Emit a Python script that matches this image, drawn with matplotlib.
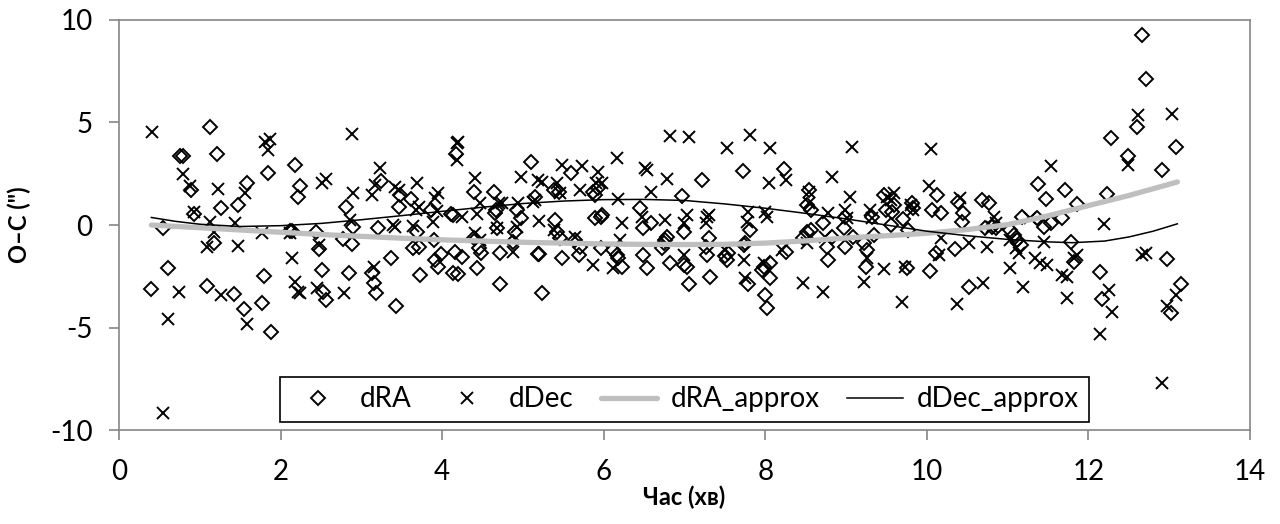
import matplotlib
matplotlib.use("Agg")
import matplotlib.pyplot as plt

plt.rcParams['font.family'] = ['Lato', 'DejaVu Sans']
plt.rcParams['axes.unicode_minus'] = False

# dRA points (time in min, O-C in arcsec)
dra_x = [0.40, 0.55, 0.60, 0.75, 0.79, 0.89, 0.93, 1.09, 1.13, 1.18, 1.21, 1.26, 1.42, 1.47, 1.55,
         1.58, 1.77, 1.80, 1.84, 1.88, 2.12, 2.14, 2.18, 2.21, 2.24, 2.44, 2.47, 2.51, 2.53, 2.56,
         2.77, 2.81, 2.85, 2.88, 2.90, 3.13, 3.15, 3.18, 3.20, 3.24, 3.37, 3.43, 3.46, 3.48, 3.62,
         3.64, 3.69, 3.71, 3.73, 3.86, 3.90, 3.91, 3.95, 3.98, 4.11, 4.13, 4.14, 4.16, 4.17, 4.19,
         4.24, 4.39, 4.39, 4.43, 4.46, 4.48, 4.64, 4.65, 4.66, 4.68, 4.71, 4.72, 4.88, 4.90, 4.92,
         4.97, 5.10, 5.15, 5.18, 5.20, 5.23, 5.38, 5.40, 5.42, 5.44, 5.46, 5.48, 5.60, 5.65, 5.69,
         5.71, 5.87, 5.89, 5.89, 5.93, 5.96, 5.96, 5.98, 6.12, 6.16, 6.18, 6.22, 6.45, 6.49, 6.49,
         6.53, 6.58, 6.72, 6.74, 6.76, 6.78, 6.82, 6.97, 6.99, 6.99, 7.03, 7.06, 7.21, 7.26, 7.28,
         7.30, 7.31, 7.50, 7.52, 7.54, 7.72, 7.73, 7.75, 7.79, 7.81, 7.96, 7.98, 8.00, 8.02, 8.06,
         8.06, 8.23, 8.25, 8.47, 8.52, 8.52, 8.54, 8.56, 8.56, 8.72, 8.76, 8.78, 8.82, 8.97, 8.99,
         8.99, 9.09, 9.22, 9.24, 9.26, 9.32, 9.34, 9.47, 9.49, 9.55, 9.57, 9.59, 9.70, 9.75, 9.77,
         9.81, 9.83, 10.06, 10.04, 10.11, 10.13, 10.17, 10.35, 10.39, 10.43, 10.45, 10.52, 10.68, 10.72, 10.77,
         10.81, 10.85, 11.03, 11.08, 11.12, 11.16, 11.18, 11.36, 11.38, 11.45, 11.47, 11.53, 11.67, 11.71, 11.78,
         11.82, 11.86, 12.14, 12.17, 12.23, 12.28, 12.49, 12.60, 12.66, 12.71, 12.91, 12.97, 13.02, 13.08, 13.14]
dra_y = [-3.13, -0.15, -2.10, 3.38, 3.38, 1.70, 0.54, -2.98, 4.80, -0.89, 3.46, 0.85, -3.37, 0.98, -4.10,
         2.05, -3.81, -2.47, 2.55, -5.20, -0.30, -0.30, 2.93, 1.37, 1.90, -0.33, -1.18, -2.20, -3.27, -3.66,
         -0.68, 0.86, -2.34, -0.93, -0.10, -2.34, -2.81, -3.32, -0.15, 2.16, -1.59, -3.95, 0.89, 1.46, 1.25,
         -1.14, -0.33, -1.06, -2.44, 0.73, -0.73, -1.71, -2.03, -1.43, 0.52, 0.47, -2.36, -1.30, 3.46, -2.39,
         -1.58, 1.63, -0.65, -2.11, -1.14, -1.38, 1.63, 0.57, 0.73, -0.16, -1.38, -2.85, -0.81, -0.33, 0.73,
         0.33, 3.09, 1.38, -1.43, -1.43, -3.33, 1.71, 0.24, -0.33, 1.63, -0.65, -1.63, 2.52, -0.73, -1.46,
         -1.06, 1.63, 1.46, 0.33, 1.79, 0.41, -1.14, 0.49, -1.22, -1.46, -1.63, -2.03, 0.81, -0.16, -1.46,
         -2.11, 0.08, -1.14, -0.89, -0.73, -0.57, -1.87, 1.41, -0.33, -1.95, -2.03, -2.85, 2.20, -1.06, -1.46,
         -0.65, -2.52, -1.50, -1.71, -1.38, 2.65, -0.98, -0.89, -2.89, -0.24, -2.20, -2.03, -3.41, -4.03, -1.87,
         -2.60, 2.72, -1.30, -0.65, 0.98, -0.33, 1.71, 0.73, -0.24, 0.08, -1.06, -1.71, -0.57, -0.16, 0.41,
         -1.06, -0.57, -0.89, -2.03, -1.22, 0.41, -0.49, 1.46, 0.73, 0.00, 0.65, 0.98, 0.28, -2.11, -0.24,
         1.06, 0.81, 0.73, -2.24, -1.38, 1.46, 0.60, -1.19, 1.14, 0.16, 0.57, -3.01, 1.22, -0.16, 1.09,
         -0.08, -0.16, -0.24, -0.49, -0.73, -0.98, 0.41, 0.33, 1.98, -0.08, 1.25, 0.08, 0.33, 1.71, -0.81,
         -1.79, 1.01, -2.28, -3.58, 1.50, 4.23, 3.35, 4.80, 9.27, 7.11, 2.68, -1.67, -4.28, 3.82, -2.85]

# dDec points
ddec_x = [0.41, 0.55, 0.60, 0.74, 0.79, 0.88, 0.93, 1.09, 1.13, 1.18, 1.22, 1.26, 1.44, 1.47, 1.56,
          1.58, 1.77, 1.81, 1.85, 1.87, 2.12, 2.14, 2.18, 2.22, 2.24, 2.45, 2.48, 2.51, 2.56, 2.78,
          2.86, 2.88, 2.90, 3.13, 3.15, 3.17, 3.23, 3.39, 3.42, 3.42, 3.46, 3.64, 3.67, 3.69, 3.71,
          3.89, 3.91, 3.93, 3.95, 4.18, 4.18, 4.20, 4.24, 4.41, 4.41, 4.43, 4.47, 4.47, 4.68, 4.70,
          4.74, 4.88, 4.92, 4.94, 4.97, 5.13, 5.15, 5.19, 5.20, 5.23, 5.38, 5.42, 5.46, 5.48, 5.65,
          5.71, 5.73, 5.87, 5.91, 5.93, 5.98, 6.12, 6.16, 6.18, 6.20, 6.22, 6.47, 6.51, 6.53, 6.58,
          6.76, 6.78, 6.82, 6.99, 6.99, 7.03, 7.06, 7.26, 7.28, 7.30, 7.50, 7.53, 7.73, 7.75, 7.77,
          7.79, 7.81, 7.98, 8.00, 8.02, 8.04, 8.06, 8.21, 8.25, 8.47, 8.51, 8.54, 8.54, 8.72, 8.74,
          8.78, 8.82, 8.99, 9.01, 9.05, 9.07, 9.22, 9.26, 9.30, 9.32, 9.47, 9.51, 9.55, 9.59, 9.69,
          9.73, 9.80, 9.83, 10.05, 10.03, 10.15, 10.17, 10.37, 10.41, 10.52, 10.70, 10.74, 10.81, 10.83, 10.85,
          11.03, 11.03, 11.10, 11.14, 11.19, 11.28, 11.34, 11.40, 11.45, 11.49, 11.53, 11.67, 11.73, 11.73, 11.82,
          11.86, 12.14, 12.19, 12.25, 12.29, 12.49, 12.61, 12.66, 12.71, 12.91, 12.97, 13.03, 13.08]
ddec_y = [4.55, -9.15, -4.59, -3.25, 2.49, 1.92, 0.65, -1.06, 0.16, -0.33, 1.76, -3.41, 0.10, -1.02, 1.54,
          -4.83, -0.39, 4.05, 3.66, 4.20, -0.39, -1.60, -2.76, -3.25, -3.32, -3.06, -0.98, 2.05, 2.24, -3.33,
          0.24, 4.42, 1.54, 1.46, -2.03, 1.95, 2.80, 0.00, -0.08, 1.87, 1.71, -0.05, 0.73, 2.03, 0.89,
          0.16, 1.30, 0.68, 1.54, 3.98, 3.17, 4.07, 0.41, 2.31, -0.41, 0.54, 1.06, -0.73, -0.16, 1.06,
          1.09, -1.30, -0.08, 1.06, 2.36, 1.14, 1.22, 2.20, 0.20, 2.11, -0.24, 2.03, 1.54, 2.93, -0.57,
          1.71, 2.88, -1.95, 2.03, 2.60, 2.03, -2.11, 3.25, 1.25, -0.73, 0.11, 0.41, 2.76, 2.68, 1.63,
          0.24, 2.23, 4.34, 0.08, -1.46, 0.49, 4.28, 0.08, 0.41, 0.49, -1.22, 3.78, -1.71, -2.60, 0.16,
          0.65, 4.39, -1.87, 0.65, 0.41, 2.07, 3.74, -1.22, 2.20, -2.81, -0.89, 1.06, 1.63, -3.25, -0.57,
          0.57, 2.36, 0.73, 0.33, 1.35, 3.82, -2.76, -1.63, 0.73, 0.33, -2.16, 1.38, 1.22, 1.54, -3.74,
          -2.03, 0.98, 0.73, 3.71, 1.92, -1.46, -0.65, -3.87, 1.30, -0.89, -2.81, -1.09, -0.08, 0.41, 0.08,
          -0.73, -2.11, -1.14, -1.35, -3.01, 0.33, -1.63, -1.87, -0.81, -1.95, 2.88, -2.44, -2.52, -3.54, -1.63,
          -1.46, -5.32, 0.03, -3.17, -4.23, 2.95, 5.37, -1.46, -1.38, -7.72, -3.95, 5.41, -3.41]

# trend lines
dra_fit_x = [0.4, 1.0, 1.5, 2.0, 2.5, 3.0, 3.5, 4.0, 4.5, 5.0, 5.5, 6.0, 6.5, 7.0, 7.5, 8.0, 8.5,
             9.0, 9.5, 10.0, 10.5, 11.0, 11.5, 12.0, 12.5, 13.1]
dra_fit_y = [0.0, -0.13, -0.24, -0.35, -0.46, -0.55, -0.64, -0.72, -0.78, -0.84, -0.88, -0.92, -0.94,
             -0.95, -0.94, -0.88, -0.77, -0.63, -0.52, -0.40, -0.22, 0.02, 0.45, 0.95, 1.44, 2.10]
ddec_fit_x = [0.4, 0.7, 1.0, 1.5, 2.0, 2.5, 3.0, 3.5, 4.0, 4.5, 5.0, 5.5, 6.0, 6.5, 7.0, 7.5, 8.0,
              8.5, 9.0, 9.5, 10.0, 10.5, 11.0, 11.5, 11.8, 12.2, 12.5, 12.8, 13.1]
ddec_fit_y = [0.37, 0.18, 0.04, -0.07, -0.03, 0.08, 0.26, 0.46, 0.67, 0.87, 1.05, 1.17, 1.24, 1.25,
              1.20, 1.03, 0.82, 0.57, 0.30, 0.00, -0.30, -0.52, -0.70, -0.82, -0.86, -0.78, -0.58, -0.30, 0.06]

fig = plt.figure(figsize=(12.8, 5.24), dpi=100)
ax = fig.add_subplot(1, 1, 1)
fig.subplots_adjust(left=0.093, right=0.9766, top=0.962, bottom=0.179)

ax.plot(dra_x, dra_y, linestyle='none', marker='D', markersize=7.5, markerfacecolor='none',
        markeredgecolor='black', markeredgewidth=1.4, label='dRA', zorder=3)
ax.plot(ddec_x, ddec_y, linestyle='none', marker='x', markersize=8.5, color='black',
        markeredgewidth=1.4, label='dDec', zorder=3)
ax.plot(dra_fit_x, dra_fit_y, color='#bfbfbf', linewidth=3.8, solid_capstyle='round',
        label='dRA_approx', zorder=4)
ax.plot(ddec_fit_x, ddec_fit_y, color='black', linewidth=1.1, label='dDec_approx', zorder=4)

ax.set_xlim(0, 14)
ax.set_ylim(-10, 10)
ax.set_xticks(range(0, 15, 2))
ax.set_yticks([-10, -5, 0, 5, 10])

for s in ax.spines.values():
    s.set_color('#868686')
    s.set_linewidth(1.2)
ax.tick_params(direction='out', length=7, width=1.2, color='#868686', labelsize=20, pad=12)
ax.tick_params(axis='x', pad=14)

ax.set_xlabel('Час (хв)', fontsize=17, fontweight='bold', labelpad=0)
ax.set_ylabel('O–C (")', fontsize=17, fontweight='bold', labelpad=14)

leg = ax.legend(loc='lower center', bbox_to_anchor=(0.5, 0.02), ncol=4, fontsize=20,
                numpoints=1, frameon=True, fancybox=False, framealpha=1, edgecolor='black',
                borderaxespad=0, handlelength=2.0, columnspacing=1.0, handletextpad=0.5,
                borderpad=0.35)
leg.get_frame().set_linewidth(1.2)

fig.savefig('out.png', dpi=100)
